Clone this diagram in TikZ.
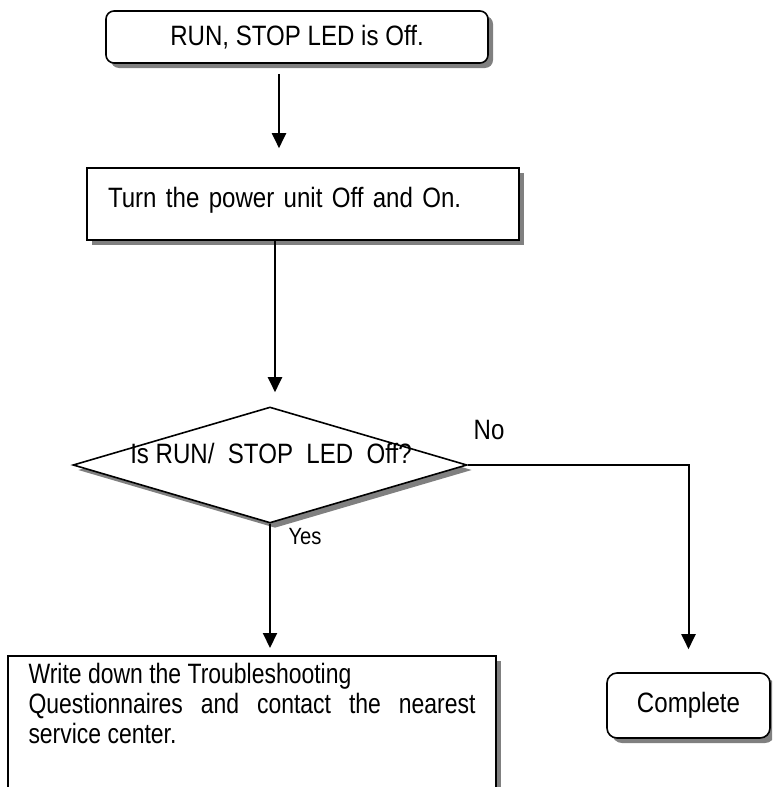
\documentclass[tikz,border=0pt]{standalone}
\usepackage{fontspec}
\setmainfont{Liberation Sans}[FakeStretch=0.86]
\newfontfamily\narrowfont{Liberation Sans}[FakeStretch=0.82]
\usetikzlibrary{arrows.meta,positioning,shapes.geometric,shadows}
\newcommand{\flowsize}{\fontsize{28}{30}\selectfont}
\tikzset{
  shadowed/.style={draw,line width=1.6pt,fill=white,
    drop shadow={shadow xshift=5pt,shadow yshift=-5pt,fill=black!50,opacity=1}},
  flow/.style={line width=2pt,-{Triangle[length=15pt,width=14pt]}},
}

\begin{document}
\begin{tikzpicture}[x=1pt,y=-1pt,font=\flowsize]
  \path[use as bounding box] (0,0) rectangle (772,787);
  \clip (0,0) rectangle (772,787);
  \node[shadowed,rounded corners=8pt,minimum width=382pt,minimum height=52pt] (start) at (297,37) {RUN, STOP LED is Off.};
  \node[shadowed,minimum width=432pt,minimum height=72pt,text width=390pt,text height=20pt,text depth=14pt] (power) at (303,204) {Turn the power unit Off and On.};
  \node[shadowed,diamond,minimum width=394pt,minimum height=116pt,inner sep=0pt] (check) at (270,465) {};
  \node (checktext) at (271,453) {Is RUN/~ STOP~ LED~ Off?};
  \node (no) at (489,430) {No};
  \node[font=\fontsize{23.5}{26}\selectfont] (yes) at (305,537) {Yes};
  \node[shadowed,anchor=north,text width=447pt,inner xsep=20.5pt,inner ysep=8pt,text height=20pt,text depth=150pt,align=justify,font=\narrowfont\flowsize] (report) at (252,655) {\sloppy\hyphenpenalty=10000 Write down the Troubleshooting\\ Questionnaires and contact the nearest\linebreak service center.};
  \node[shadowed,rounded corners=10pt,minimum width=163pt,minimum height=65pt] (done) at (688.5,705.5) {Complete};
  \coordinate (a1) at (279,0);
  \coordinate (a2) at (275,0);
  \draw[flow,shorten <=10pt,shorten >=19pt] (start.south -| a1) -- (power.north -| a1);
  \draw[flow,shorten >=14pt] (power.south -| a2) -- (check.north -| a2);
  \draw[flow,shorten >=7pt] (check.south) -- (report.north -| check.south);
  \draw[flow,shorten >=23pt] (check.east) -| (done.north);
\end{tikzpicture}
\end{document}
